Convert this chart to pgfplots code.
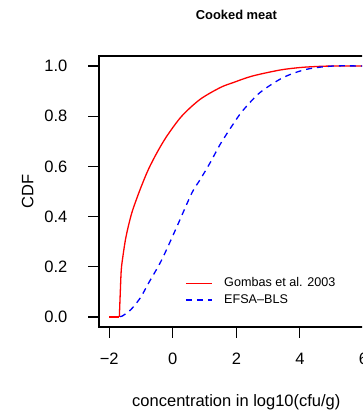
\documentclass[border=0pt]{standalone}
\usepackage{fontspec}
\setmainfont{Liberation Sans}
\usepackage{pgfplots}
\pgfplotsset{compat=1.18}
\begin{document}
\begin{tikzpicture}[x=1pt,y=1pt]
\path[use as bounding box, clip] (0,0) rectangle (362,410);
\begin{axis}[
  at={(99pt,83pt)}, anchor=south west,
  scale only axis, width=274.7pt, height=271pt,
  xmin=-2.32, xmax=6.32, ymin=-0.04, ymax=1.04,
  xtick={-2,0,2,4,6}, xticklabels={−2,0,2,4,6},
  ytick={0,0.2,0.4,0.6,0.8,1.0}, yticklabels={0.0,0.2,0.4,0.6,0.8,1.0},
  xtick pos=left, ytick pos=left,
  tick align=outside, major tick length=10.5pt,
  tick style={line width=1.1pt, black},
  axis line style={line width=1.6pt},
  every tick label/.append style={font=\fontsize{16.5}{19}\selectfont},
  xticklabel style={anchor=base, yshift=-27pt},
  yticklabel style={anchor=east, inner sep=0pt, xshift=-21pt},
  title={Cooked meat},
  title style={at={(0.5,1)}, anchor=base, yshift=30pt, font=\bfseries\fontsize{12.9}{15}\selectfont},
  xlabel={concentration in log10(cfu/g)},
  xlabel style={at={(0.5,0)}, anchor=base, yshift=-79pt, font=\fontsize{16.5}{19}\selectfont},
  ylabel={CDF},
  ylabel style={at={(-0.2392,0.5)}, anchor=base, font=\fontsize{16.5}{19}\selectfont},
  legend style={draw=none, fill=none, at={(0.3131,0.1303)}, anchor=west,
    font=\fontsize{12.6}{15}\selectfont, row sep=5pt, inner sep=0pt,
    nodes={inner sep=0pt, text height=9pt, text depth=2.7pt},
    /tikz/every odd column/.append style={column sep=12pt}},
  legend cell align=left,
  legend image code/.code={\draw[#1] (0pt,0pt) -- (25.7pt,0pt);},
]
\addplot[red, line width=1.3pt, smooth, tension=0.5] coordinates {
(-1.68,0) (-1.65,0.10) (-1.62,0.187) (-1.57,0.24) (-1.47,0.32)
(-1.29,0.414) (-1.03,0.507) (-0.77,0.587) (-0.50,0.654) (-0.19,0.72)
(0.28,0.80) (0.857,0.867) (1.49,0.914) (1.9,0.934) (2.5,0.96)
(3.37,0.984) (4.0,0.994) (4.5,0.998) (5.0,1.0) (6.0,1.0)
};
\addlegendentry{Gombas et al. 2003}
\addplot[blue, line width=1.3pt, dash pattern=on 6pt off 5pt, smooth, tension=0.5] coordinates {
(-2,0) (-1.7,0) (-1.6,0.003) (-1.4,0.02) (-1.24,0.04) (-1.0,0.08)
(-0.77,0.133) (-0.35,0.227) (0.13,0.36) (0.6,0.494) (0.86,0.547)
(1.2,0.62) (1.5,0.69) (1.96,0.78) (2.22,0.825) (2.74,0.894) (3.47,0.954)
(4.21,0.987) (5.04,1.0) (6,1.0)
};
\addlegendentry{EFSA–BLS}
\addplot[red, line width=1.3pt, forget plot] coordinates {(-2.00,0) (-1.68,0)};
\end{axis}
\end{tikzpicture}
\end{document}
